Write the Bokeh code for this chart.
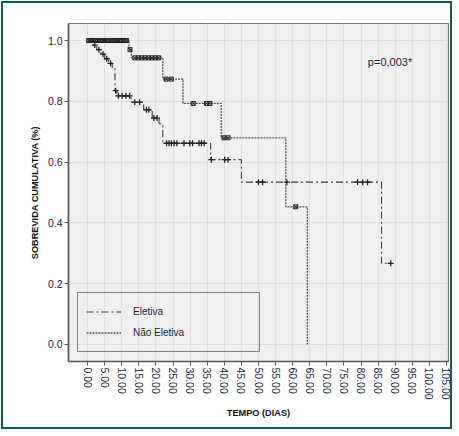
import numpy as np

from bokeh.embed import file_html
from bokeh.resources import INLINE
from bokeh.models import (
    Range1d,
    FixedTicker,
    PrintfTickFormatter,
    Legend,
    LegendItem,
    Label,
)
from bokeh.plotting import figure

# Kaplan-Meier steps (time in days, survival after the event)
eletiva_times = [0, 1.5, 2.7, 3.9, 5.0, 6.1, 7.2, 8.0, 8.6, 12.7, 16.4, 18.9,
                 20.9, 22.0, 36.0, 45.0, 86.0]
eletiva_surv = [1.0, 0.985, 0.970, 0.955, 0.940, 0.925, 0.910, 0.835, 0.818,
                0.797, 0.772, 0.745, 0.726, 0.662, 0.608, 0.534, 0.267]
eletiva_last = 88.7
eletiva_censored = [2.1, 3.3, 4.5, 5.6, 6.7, 8.2, 9.0, 10.1, 11.2, 12.3, 13.8,
                    15.2, 17.2, 17.9, 19.4, 20.3, 23.1, 23.8, 24.5, 25.3, 26.1,
                    28.2, 29.9, 30.7, 32.6, 33.3, 34.1, 36.2, 40.1, 41.1, 50.0,
                    51.2, 58.3, 79.0, 80.5, 81.9, 88.7]

nao_times = [0, 12.1, 12.8, 22.0, 27.9, 39.1, 58.0, 64.3]
nao_surv = [1.0, 0.970, 0.943, 0.873, 0.793, 0.680, 0.453, 0.0]
nao_last = 64.3
nao_censored = [0.3, 0.9, 1.6, 2.3, 3.0, 3.7, 4.4, 5.1, 5.8, 6.5, 7.2, 7.9, 8.6,
                9.3, 10.0, 10.7, 11.4, 12.4, 13.8, 14.8, 15.8, 16.8, 17.8, 18.8,
                19.8, 20.8, 23.0, 24.5, 30.9, 34.8, 35.8, 39.9, 41.1, 60.9]

x_ticks = list(range(0, 110, 5))
y_ticks = [0.0, 0.2, 0.4, 0.6, 0.8, 1.0]

FONT = "'Liberation Sans', Arial, sans-serif"
TXT = "#1c1c3c"


def censor_y(times, surv, cens):
    idx = np.searchsorted(np.array(times), np.array(cens), side="right") - 1
    return [surv[i] for i in idx]


p = figure(
    width=451, height=428,
    x_range=Range1d(-5.6, 105.6), y_range=Range1d(-0.056, 1.056),
    toolbar_location=None, output_backend="svg",
    min_border_left=65, min_border_right=6, min_border_top=20, min_border_bottom=70,
)
p.styles = {"border": "2px solid #0b5e4c", "margin": "1px 0 0 1px"}
p.background_fill_color = "#f0f0f0"
p.border_fill_color = "white"
p.outline_line_color = "#7a7a7a"
p.outline_line_width = 1.2

p.xgrid.grid_line_color = "#e0e0e0"
p.ygrid.grid_line_color = "#e0e0e0"

p.xaxis.ticker = FixedTicker(ticks=x_ticks)
p.xaxis.formatter = PrintfTickFormatter(format="%.2f")
p.xaxis.major_label_orientation = -np.pi / 2
p.yaxis.ticker = FixedTicker(ticks=y_ticks)
p.yaxis.formatter = PrintfTickFormatter(format="%.1f")

for ax in (p.xaxis, p.yaxis):
    ax.minor_tick_line_color = None
    ax.axis_line_color = "#555555"
    ax.axis_line_width = 1.6
    ax.major_tick_line_color = "#555555"
    ax.major_tick_in = 0
    ax.major_tick_out = 4
    ax.major_label_text_font = FONT
    ax.major_label_text_font_size = "10.5px"
    ax.major_label_text_color = TXT
    ax.axis_label_text_font = FONT
    ax.axis_label_text_font_style = "bold"
    ax.axis_label_text_font_size = "9.2px"
    ax.axis_label_text_color = "#111111"
    ax.major_label_standoff = 2

p.xaxis.axis_label = "TEMPO (DIAS)"
p.yaxis.axis_label = "SOBREVIDA CUMULATIVA (%)"
p.xaxis.axis_label_standoff = 5
p.yaxis.axis_label_standoff = 5

# curves
r_el = p.step(eletiva_times + [eletiva_last], eletiva_surv + [eletiva_surv[-1]],
              mode="after", line_color="#3a3a3a", line_width=1.1, line_dash="7 3 2 3")
r_nao = p.step(nao_times + [nao_last], nao_surv + [nao_surv[-1]],
               mode="after", line_color="#555555", line_width=1.3, line_dash="2 1")

p.scatter(eletiva_censored, censor_y(eletiva_times, eletiva_surv, eletiva_censored),
          marker="cross", size=6, line_color="#222222", line_width=1.3)
p.scatter(nao_censored, censor_y(nao_times, nao_surv, nao_censored),
          marker="square_x", size=4, line_color="#222222", fill_color=None, line_width=1)

p.add_layout(Label(x=82, y=0.928, text="p=0,003*", text_font=FONT,
                   text_font_size="11px", text_color=TXT, text_baseline="middle"))

legend = Legend(
    items=[LegendItem(label="Eletiva", renderers=[r_el]),
           LegendItem(label="Não Eletiva", renderers=[r_nao])],
    location=(9, 9), margin=0, padding=8, spacing=0,
    glyph_width=35, glyph_height=21, label_height=21, label_width=118,
    label_standoff=12, label_text_font=FONT, label_text_font_size="10px",
    label_text_color=TXT, border_line_color="#111111", border_line_width=1.5,
    background_fill_alpha=0,
)
p.add_layout(legend)

open("out.html", "w").write(file_html(p, INLINE))
